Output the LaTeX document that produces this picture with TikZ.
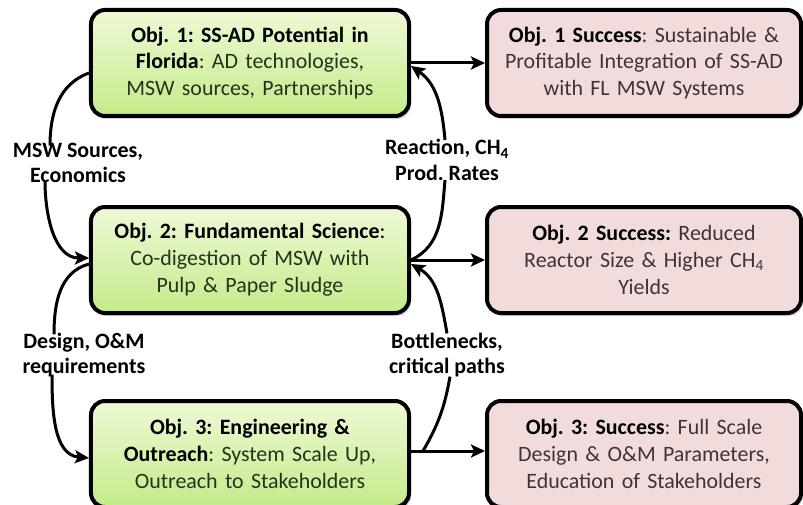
\documentclass[tikz,border=0pt]{standalone}
\usepackage{fontspec}
\setmainfont{Carlito}
\usetikzlibrary{positioning, shapes, arrows.meta, shadows}

\definecolor{objtop}{RGB}{238,249,214}
\definecolor{objbot}{RGB}{196,235,138}
\definecolor{succfill}{RGB}{242,220,219}
\definecolor{objtext}{RGB}{38,50,28}
\definecolor{succtext}{RGB}{62,52,52}

\begin{document}
\frenchspacing
\begin{tikzpicture}[x=1bp, y=1bp, line width=3bp,
    every node/.style={font=\fontsize{22}{27}\selectfont},
    objbox/.style={draw, rounded corners=14bp, line width=4bp, minimum width=318bp, minimum height=106bp, text width=310bp, align=center, top color=objtop, bottom color=objbot, text=objtext, drop shadow={opacity=0.35, shadow xshift=2bp, shadow yshift=-3bp}},
    succbox/.style={draw, rounded corners=14bp, line width=4bp, minimum width=314bp, minimum height=106bp, text width=306bp, align=center, fill=succfill, text=succtext, drop shadow={opacity=0.35, shadow xshift=2bp, shadow yshift=-3bp}},
    lbl/.style={font=\fontsize{22}{25.5}\selectfont\bfseries, align=center, inner sep=2bp},
    flow/.style={-{Stealth[length=14bp, width=13bp, inset=3bp]}, line width=3bp}]

    \useasboundingbox (0,0) rectangle (803,-505);

    % Objectives
    \node (obj1) [objbox] at (250,-63) {\textcolor{black}{\textbf{Obj. 1: SS-AD Potential in}}\\ \textcolor{black}{\textbf{Florida}}: AD technologies,\\ MSW sources, Partnerships};
    \node (obj2) [objbox, below=87bp of obj1] {\textcolor{black}{\textbf{Obj. 2: Fundamental Science}:}\\ Co-digestion of MSW with\\ Pulp \& Paper Sludge};
    \node (obj3) [objbox, below=84bp of obj2] {\textcolor{black}{\textbf{Obj. 3: Engineering \&}}\\ \textcolor{black}{\textbf{Outreach}}: System Scale Up,\\ Outreach to Stakeholders};

    % Outcomes
    \node (succ1) [succbox, right=74bp of obj1] {\textcolor{black}{\textbf{Obj. 1 Success}}: Sustainable \&\\ Profitable Integration of SS-AD\\ with FL MSW Systems};
    \node (succ2) [succbox, right=74bp of obj2] {\textcolor{black}{\textbf{Obj. 2 Success:}} Reduced\\ Reactor Size \& Higher CH\textsubscript{4}\\ Yields};
    \node (succ3) [succbox, right=74bp of obj3] {\textcolor{black}{\textbf{Obj. 3: Success}}: Full Scale\\ Design \& O\&M Parameters,\\ Education of Stakeholders};

    % Links between objectives
    \node (lblsrc) [lbl] at (78,-163) {MSW Sources,\\ Economics};
    \node (lblrxn) [lbl] at (447,-160) {Reaction, CH\textsubscript{4}\\ Prod. Rates};
    \node (lbldes) [lbl] at (84,-355) {Design, O\&M\\ requirements};
    \node (lblbot) [lbl] at (447,-355) {Bottlenecks,\\ critical paths};

    \draw [flow] (obj1) -- (succ1);
    \draw [flow] (obj2) -- (succ2);
    \draw [flow] ([yshift=3bp]obj3.east) -- ([yshift=3bp]succ3.west);

    \draw ([yshift=-10bp]obj1.west) to[out=200, in=90] ([xshift=-28bp, yshift=-6bp]lblsrc.north);
    \draw [flow] ([xshift=-33bp, yshift=6bp]lblsrc.south) to[out=-90, in=180] ([yshift=2bp]obj2.west);
    \draw ([yshift=-4bp]obj2.west) to[out=195, in=90] ([xshift=-30bp, yshift=-5bp]lbldes.north);
    \draw [flow] ([xshift=-32bp, yshift=6bp]lbldes.south) to[out=-90, in=175] ([yshift=-4bp]obj3.west);

    \draw (obj2.east) to[out=25, in=-95] ([xshift=-2bp, yshift=4bp]lblrxn.south);
    \draw [flow] ([xshift=-2bp, yshift=-4bp]lblrxn.north) to[out=95, in=-35] ([yshift=-3bp]obj1.east);
    \draw ([xshift=12bp, yshift=3bp]obj3.east) to[out=60, in=-100] ([xshift=3bp, yshift=4bp]lblbot.south);
    \draw [flow] ([yshift=-4bp]lblbot.north) to[out=100, in=-30] ([yshift=-4bp]obj2.east);

\end{tikzpicture}
\end{document}
